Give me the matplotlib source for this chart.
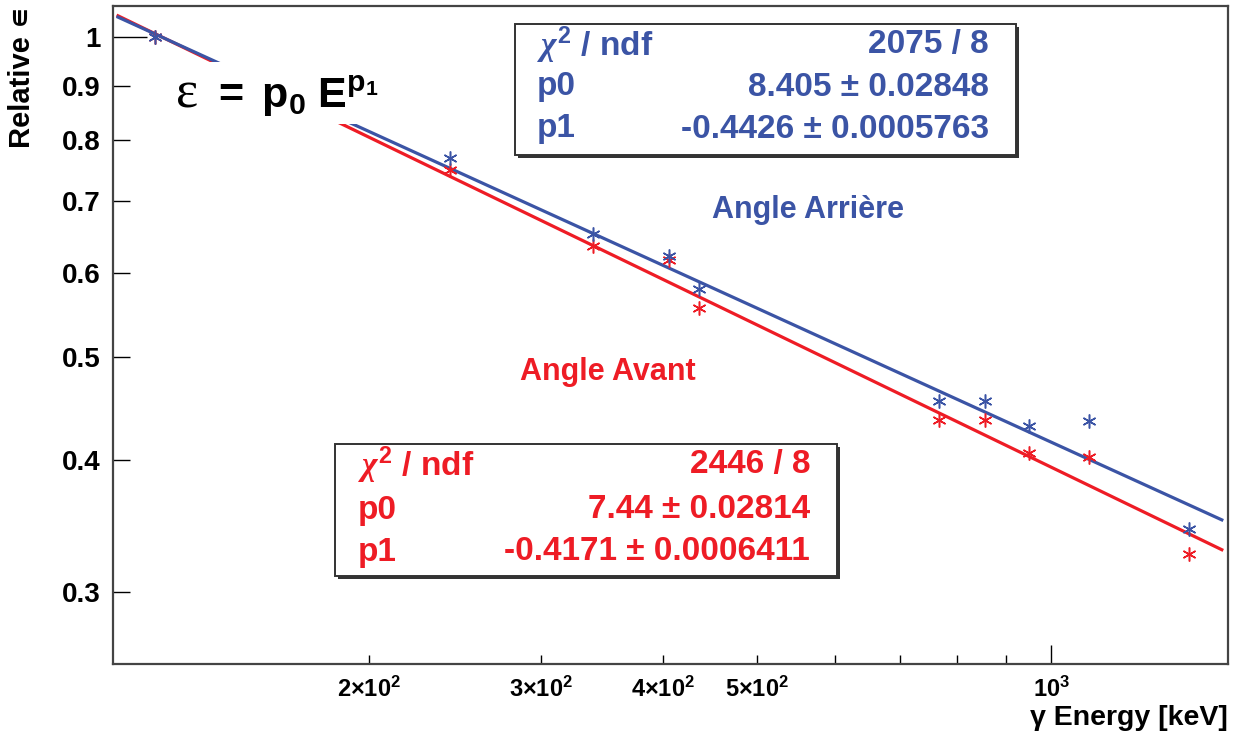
import matplotlib
matplotlib.use('Agg')
from matplotlib import pyplot as plt
from matplotlib.patches import Rectangle
from matplotlib.ticker import FixedLocator, FixedFormatter, NullLocator
import numpy as np

plt.rcParams['font.family'] = ['Liberation Sans', 'DejaVu Sans']
plt.rcParams['font.weight'] = 'bold'
plt.rcParams['mathtext.fontset'] = 'custom'
plt.rcParams['mathtext.bf'] = 'Liberation Sans:bold'
plt.rcParams['mathtext.rm'] = 'Liberation Serif'
plt.rcParams['mathtext.it'] = 'Liberation Serif:italic'
plt.rcParams['mathtext.default'] = 'bf'

# data
energy = [120.7, 242, 339, 405.6, 436, 768, 855, 950, 1094, 1386]
eff_arriere = [1.0, 0.769, 0.653, 0.622, 0.579, 0.454, 0.454, 0.4305, 0.435, 0.344]
eff_avant = [1.0, 0.750, 0.635, 0.616, 0.556, 0.436, 0.436, 0.406, 0.4026, 0.326]

# fit lines (end points)
fit_e = [110.6, 1496]
fit_arriere = [1.044, 0.351]
fit_avant = [1.047, 0.329]

ytick_major = [1.0]
ytick_major_labels = ['1']
ytick_minor = [0.3, 0.4, 0.5, 0.6, 0.7, 0.8, 0.9]
ytick_minor_labels = ['0.3', '0.4', '0.5', '0.6', '0.7', '0.8', '0.9']
xtick_minor = [200, 300, 400, 500, 600, 700, 800, 900]
xtick_minor_labels = [r'$2{\times}10^{2}$', r'$3{\times}10^{2}$', r'$4{\times}10^{2}$',
                      r'$5{\times}10^{2}$', '', '', '', '']
xtick_major = [1000]
xtick_major_labels = [r'$10^{3}$']

stats_arriere = [(r'$\mathit{\chi}^{2}$ / ndf', '2075 / 8'),
                 ('p0', '8.405 ± 0.02848'),
                 ('p1', '-0.4426 ± 0.0005763')]
stats_avant = [(r'$\mathit{\chi}^{2}$ / ndf', '2446 / 8'),
               ('p0', '7.44 ± 0.02814'),
               ('p1', '-0.4171 ± 0.0006411')]

blue = '#3b54a5'
red = '#ee1c25'

W, H = 1240, 735
fig = plt.figure(figsize=(12.4, 7.35), dpi=100)
L, R, T, B = 113, 1228, 6, 664
ax = fig.add_axes([L / W, (H - B) / H, (R - L) / W, (B - T) / H])

def px(x, y):
    # picture pixel -> axes fraction
    return (x - L) / (R - L), (B - y) / (B - T)

ax.plot(fit_e, fit_avant, color=red, lw=2.3, zorder=2)
ax.plot(fit_e, fit_arriere, color=blue, lw=2.3, zorder=2)
ax.plot(energy, eff_avant, ls='none', marker=(6, 2, 0), ms=10, mew=1.1,
        color=red, zorder=3)
ax.plot(energy, eff_arriere, ls='none', marker=(6, 2, 0), ms=10, mew=1.1,
        color=blue, zorder=3)

ax.set_xscale('log')
ax.set_yscale('log')
ax.set_xlim(109.3, 1518)
ax.set_ylim(0.2568, 1.0695)

ax.xaxis.set_major_locator(FixedLocator(xtick_major))
ax.xaxis.set_major_formatter(FixedFormatter(xtick_major_labels))
ax.xaxis.set_minor_locator(FixedLocator(xtick_minor))
ax.xaxis.set_minor_formatter(FixedFormatter(xtick_minor_labels))
ax.yaxis.set_major_locator(FixedLocator(ytick_major))
ax.yaxis.set_major_formatter(FixedFormatter(ytick_major_labels))
ax.yaxis.set_minor_locator(FixedLocator(ytick_minor))
ax.yaxis.set_minor_formatter(FixedFormatter(ytick_minor_labels))

ax.tick_params(axis='x', which='major', direction='in', length=14, width=1,
               labelsize=17, pad=9.5, top=False)
ax.tick_params(axis='x', which='minor', direction='in', length=6.5, width=1,
               labelsize=17, pad=9.5, top=False)
ax.tick_params(axis='y', which='major', direction='in', length=24.5, width=1,
               labelsize=20, pad=9, right=False)
ax.tick_params(axis='y', which='minor', direction='in', length=12, width=1,
               labelsize=20, pad=9, right=False)

for s in ax.spines.values():
    s.set_color('#444444')
    s.set_linewidth(1.6)

ax.set_xlabel('γ Energy [keV]', fontsize=20.5, fontweight='bold', loc='right')
ax.xaxis.set_label_coords(1.0, -0.0625)
ax.set_ylabel('Relative ∊', fontsize=21, fontweight='bold', loc='top')
ax.yaxis.set_label_coords(-0.069, 1.0)

# white pad behind the formula
a0, b0 = px(168, 124)
a1, b1 = px(400, 62)
ax.add_patch(Rectangle((a0, b0), a1 - a0, b1 - b0, transform=ax.transAxes,
                       facecolor='white', edgecolor='none', zorder=4))
x0, y0 = px(176, 107)
ax.text(x0, y0, 'ε', transform=ax.transAxes, fontsize=38, fontweight='normal',
        family=['Liberation Serif', 'DejaVu Serif'], ha='left', va='baseline', zorder=5)
x0, y0 = px(212, 108)
ax.text(x0, y0, r'$=\ p_{0}\ E^{p_{1}}$', transform=ax.transAxes,
        fontsize=31, ha='left', va='baseline', zorder=5)

x0, y0 = px(712, 210)
ax.text(x0, y0, 'Angle Arrière', transform=ax.transAxes, color=blue,
        fontsize=22, fontweight='bold', ha='left', va='center')
x0, y0 = px(520, 372)
ax.text(x0, y0, 'Angle Avant', transform=ax.transAxes, color=red,
        fontsize=22, fontweight='bold', ha='left', va='center')

def stat_box(box, rows, color, xl, xr, ys):
    bx0, by0, bx1, by1 = box
    a0, b0 = px(bx0, by1)
    a1, b1 = px(bx1, by0)
    sx, sy = 3 / (R - L), 3 / (B - T)
    ax.add_patch(Rectangle((a0 + sx, b0 - sy), a1 - a0, b1 - b0, transform=ax.transAxes,
                           facecolor='#333333', edgecolor='none', zorder=6))
    ax.add_patch(Rectangle((a0, b0), a1 - a0, b1 - b0, transform=ax.transAxes,
                           facecolor='white', edgecolor='#333333', lw=1.4, zorder=7))
    for (name, val), yy in zip(rows, ys):
        p, q = px(xl, yy)
        ax.text(p, q, name, transform=ax.transAxes, color=color, fontsize=24,
                fontweight='bold', ha='left', va='center', zorder=8)
        p, q = px(xr, yy)
        ax.text(p, q, val, transform=ax.transAxes, color=color, fontsize=24,
                fontweight='bold', ha='right', va='center', zorder=8)

stat_box((515, 24, 1016, 155), stats_arriere, blue, 537, 989, [45, 87, 129])
stat_box((335, 444, 837, 576), stats_avant, red, 358, 810, [465, 510, 552])

fig.savefig('out.png', dpi=100, facecolor='white')
